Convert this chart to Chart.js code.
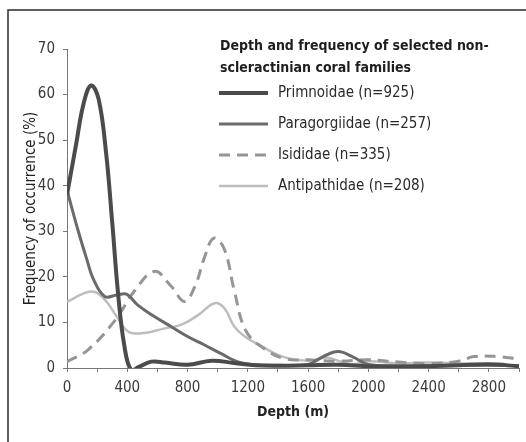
<!DOCTYPE html>
<html>
<head>
<meta charset="utf-8">
<script src="https://cdn.jsdelivr.net/npm/chart.js@4"></script>
<style>
  html, body { margin: 0; padding: 0; background: #fff; }
  #wrap { width: 526px; height: 442px; }
</style>
</head>
<body>
<div id="wrap"><canvas id="coralChart" width="526" height="442"></canvas></div>
<script>
  // values (depth in m, frequency in %)
  const seriesNames = ["Primnoidae (n=925)", "Paragorgiidae (n=257)", "Isididae (n=335)", "Antipathidae (n=208)"];

  const primDepth = [0, 60, 110, 160, 210, 260, 300, 340, 380, 425, 480, 560, 650, 800, 960, 1110, 1250, 1400, 1600, 1800, 2000, 2200, 2400, 2600, 2800, 3000];
  const primFreq = [38, 49, 58, 62, 59, 47, 32, 16, 5, -0.4, 0.3, 1.4, 1.2, 0.7, 1.6, 1.1, 0.6, 0.5, 0.6, 0.7, 0.4, 0.3, 0.4, 0.6, 0.8, 0.4];

  const paraDepth = [0, 75, 130, 175, 250, 330, 395, 470, 580, 690, 800, 910, 1020, 1130, 1250, 1400, 1600, 1700, 1800, 1900, 2000, 2200, 2400, 2600, 2800, 3000];
  const paraFreq = [39, 30, 24, 19.5, 15.7, 16, 16.2, 13.8, 11.3, 9.1, 6.9, 5.1, 3.2, 1.4, 0.7, 0.6, 0.8, 2.5, 3.6, 2.4, 0.8, 0.5, 0.5, 0.6, 0.6, 0.5];

  const isiDepth = [0, 140, 320, 450, 580, 690, 780, 850, 915, 975, 1045, 1110, 1190, 1320, 1450, 1600, 1800, 2000, 2200, 2400, 2600, 2700, 2860, 3000];
  const isiFreq = [1.4, 4, 10.5, 17, 21.2, 18, 14.6, 18, 24.5, 28.5, 26, 17, 8, 4, 2, 1.8, 1.5, 1.8, 1.3, 1, 1.5, 2.5, 2.5, 2];

  const antiDepth = [0, 160, 250, 330, 405, 495, 650, 760, 870, 980, 1045, 1110, 1180, 1280, 1430, 1610, 1720, 1800, 1900, 2000, 2200, 2400, 2600, 2800, 3000];
  const antiFreq = [14.5, 16.8, 15, 11.3, 8, 7.6, 8.7, 9.5, 11.6, 14.2, 13.1, 9.1, 6.9, 5, 2.5, 1.6, 2.3, 1.6, 0.8, 1.5, 1, 1.2, 1, 0.8, 0.5];

  const depthTicks = [0, 400, 800, 1200, 1600, 2000, 2400, 2800];
  const freqTicks = [0, 10, 20, 30, 40, 50, 60, 70];

  const legendTitle = ["Depth and frequency of selected non-", "scleractinian coral families"];

  const fontFamily = "'DejaVu Sans Condensed', 'Roboto', 'DejaVu Sans', sans-serif";

  function toPoints(xs, ys) {
    return xs.map(function (x, i) { return { x: x, y: ys[i] }; });
  }

  // frame lines at the top and left edge of the figure
  const framePlugin = {
    id: "frame",
    beforeDraw: function (chart) {
      const ctx = chart.ctx;
      ctx.save();
      ctx.strokeStyle = "#2b2b2b";
      ctx.lineWidth = 1.5;
      ctx.beginPath();
      ctx.moveTo(526, 10);
      ctx.lineTo(8, 10);
      ctx.lineTo(8, 442);
      ctx.stroke();
      ctx.restore();
    }
  };

  // legend drawn inside the plot, top right
  const legendPlugin = {
    id: "boxLegend",
    afterDraw: function (chart) {
      const ctx = chart.ctx;
      ctx.save();
      ctx.fillStyle = "#1e1e1e";
      ctx.textBaseline = "middle";
      ctx.textAlign = "left";
      ctx.font = "bold 14px " + fontFamily;
      legendTitle.forEach(function (line, i) {
        ctx.fillText(line, 220, 46 + i * 22);
      });
      ctx.font = "15px " + fontFamily;
      chart.data.datasets.forEach(function (ds, i) {
        const y = 93 + i * 31;
        ctx.strokeStyle = ds.borderColor;
        ctx.lineWidth = ds.borderWidth;
        ctx.setLineDash(ds.borderDash || []);
        ctx.beginPath();
        ctx.moveTo(219, y);
        ctx.lineTo(268, y);
        ctx.stroke();
        ctx.setLineDash([]);
        ctx.fillStyle = "#2a2a2a";
        ctx.fillText(ds.label, 278, y);
      });
      ctx.restore();
    }
  };

  const ctx = document.getElementById("coralChart").getContext("2d");
  const coralChart = new Chart(ctx, {
    type: "line",
    data: {
      datasets: [
        {
          label: seriesNames[0],
          data: toPoints(primDepth, primFreq),
          borderColor: "#4b4b4b",
          borderWidth: 4
        },
        {
          label: seriesNames[1],
          data: toPoints(paraDepth, paraFreq),
          borderColor: "#6a6a6a",
          borderWidth: 3
        },
        {
          label: seriesNames[2],
          data: toPoints(isiDepth, isiFreq),
          borderColor: "#959595",
          borderWidth: 3,
          borderDash: [11, 7]
        },
        {
          label: seriesNames[3],
          data: toPoints(antiDepth, antiFreq),
          borderColor: "#bdbdbd",
          borderWidth: 2.5
        }
      ]
    },
    options: {
      responsive: false,
      animation: false,
      layout: {
        padding: { top: 49, right: 6, bottom: 0, left: 0 }
      },
      elements: {
        point: { radius: 0 },
        line: { tension: 0.4, fill: false }
      },
      plugins: {
        legend: { display: false },
        tooltip: { enabled: false }
      },
      scales: {
        x: {
          type: "linear",
          min: 0,
          max: 3000,
          afterFit: function (scale) { scale.height = 74; },
          afterBuildTicks: function (scale) {
            const t = [];
            for (let v = 0; v <= 3000; v += 200) t.push({ value: v });
            scale.ticks = t;
          },
          ticks: {
            autoSkip: false,
            maxRotation: 0,
            padding: 7,
            color: "#3a3a3a",
            font: { family: fontFamily, size: 15 },
            callback: function (v) { return depthTicks.indexOf(v) >= 0 ? String(v) : ""; }
          },
          grid: { drawOnChartArea: false, tickLength: 4, color: "#777" },
          border: { color: "#777", width: 1 },
          title: {
            display: true,
            text: "Depth (m)",
            color: "#222",
            font: { family: fontFamily, size: 14, weight: "bold" },
            padding: { top: 0, bottom: 21 }
          }
        },
        y: {
          min: 0,
          max: 70,
          afterFit: function (scale) { scale.width = 67; },
          afterBuildTicks: function (scale) {
            scale.ticks = freqTicks.map(function (v) { return { value: v }; });
          },
          ticks: {
            padding: 8,
            color: "#3a3a3a",
            font: { family: fontFamily, size: 15 }
          },
          grid: { drawOnChartArea: false, tickLength: 4, color: "#777" },
          border: { color: "#777", width: 1 },
          title: {
            display: true,
            text: "Frequency of occurrence (%)",
            color: "#222",
            font: { family: fontFamily, size: 15 },
            padding: { top: 22, bottom: 0 }
          }
        }
      }
    },
    plugins: [framePlugin, legendPlugin]
  });
</script>
</body>
</html>
